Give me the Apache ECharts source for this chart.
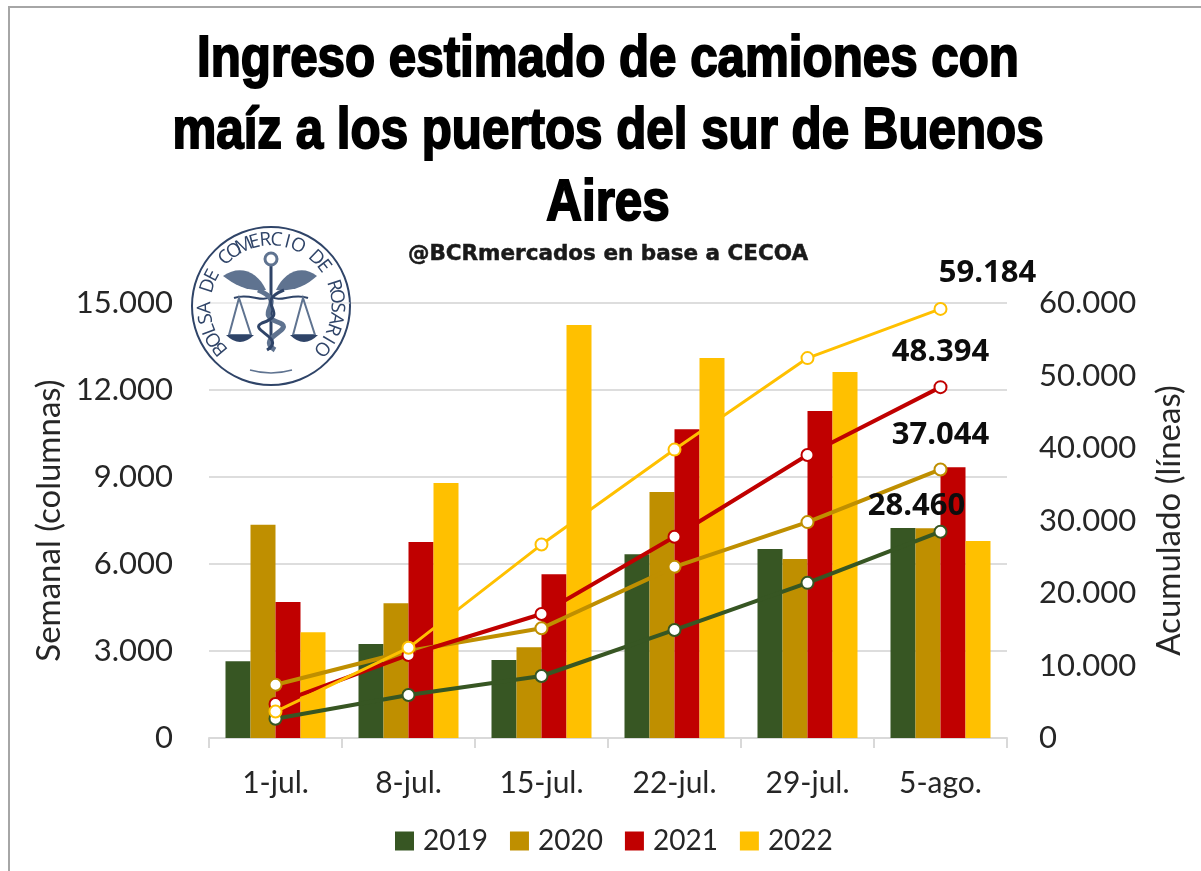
<!DOCTYPE html>
<html>
<head>
<meta charset="utf-8">
<title>Ingreso de camiones</title>
<script src="https://cdn.jsdelivr.net/npm/echarts@6/dist/echarts.min.js"></script>
<style>
html, body { margin: 0; padding: 0; background: #fff; }
#chart { width: 1201px; height: 871px; }
</style>
</head>
<body>
<div id="chart"></div>
<script>
var categories = ['1-jul.', '8-jul.', '15-jul.', '22-jul.', '29-jul.', '5-ago.'];
var years = ['2019', '2020', '2021', '2022'];
var colors = ['#375623', '#BF8F00', '#C00000', '#FFC000'];

var weekly2019 = [2650, 3240, 2690, 6340, 6520, 7240];
var weekly2020 = [7350, 4650, 3130, 8480, 6170, 7230];
var weekly2021 = [4690, 6760, 5650, 10650, 11280, 9340];
var weekly2022 = [3650, 8790, 14240, 13100, 12620, 6790];

var total2019 = [2650, 5930, 8550, 14900, 21400, 28460];
var total2020 = [7350, 12000, 15130, 23610, 29780, 37044];
var total2021 = [4690, 11450, 17100, 27750, 39030, 48394];
var total2022 = [3650, 12440, 26680, 39780, 52400, 59184];

var weekly = [weekly2019, weekly2020, weekly2021, weekly2022];
var totals = [total2019, total2020, total2021, total2022];

var titleText = 'Ingreso estimado de camiones con\nmaíz a los puertos del sur de Buenos\nAires';
var subtitleText = '@BCRmercados en base a CECOA';
var sealText = 'BOLSA DE COMERCIO DE ROSARIO';
var sealColor = '#2F4468';
var sealLight = '#5F7390';

// posicion de la etiqueta final de cada linea acumulada
var endLabelOffsets = [[-24, -3], [0, 0], [0, 0], [47, -1]];

function fmt(v) {
    return String(v).replace(/\B(?=(\d{3})+$)/g, '.');
}

function buildSeries() {
    var series = [];
    years.forEach(function (year, i) {
        series.push({
            name: year,
            type: 'bar',
            barWidth: 25,
            barGap: '0%',
            itemStyle: {color: colors[i]},
            data: weekly[i],
            z: 2
        });
    });
    years.forEach(function (year, i) {
        series.push({
            name: year + ' acumulado',
            type: 'line',
            yAxisIndex: 1,
            symbol: 'circle',
            symbolSize: 12,
            showAllSymbols: true,
            lineStyle: {color: colors[i], width: i === 3 ? 3 : 4},
            itemStyle: {color: '#fff', borderColor: colors[i], borderWidth: 2},
            data: totals[i],
            z: 5 + (i === 3 ? 1 : 0),
            label: {
                show: true,
                formatter: function (p) {
                    return p.dataIndex === categories.length - 1 ? fmt(p.value) : '';
                },
                position: 'top',
                distance: i === 0 ? 0 : 12,
                offset: endLabelOffsets[i],
                color: '#0D0D0D',
                fontFamily: 'Open Sans',
                fontWeight: 'bold',
                fontSize: 31
            }
        });
    });
    return series;
}

// el componente graphic no acepta pathData directo, se registran como formas
var sealPaths = {
    wingLeft: 'M266 290 C258 272 240 264 223 276 C236 286 250 292 266 290 Z',
    wingRight: 'M276 290 C284 272 302 264 317 276 C306 286 292 292 276 290 Z',
    beam: 'M234 298 C250 292 262 304 271 296 C280 304 292 292 308 298',
    panLeft: 'M239 298 L229 335 L251 335 Z',
    panRight: 'M303 298 L293 335 L315 335 Z',
    dishLeft: 'M226 335 Q240 349 254 335 Z',
    dishRight: 'M290 335 Q304 349 318 335 Z',
    snakeA: 'M258 290 C290 303 250 313 280 323 C295 330 255 338 275 350',
    snakeB: 'M284 290 C252 303 292 313 262 323 C247 330 287 338 267 350',
    swoosh: 'M250 370 Q271 376 292 370'
};
Object.keys(sealPaths).forEach(function (key) {
    echarts.graphic.registerShape(key, echarts.graphic.extendPath(sealPaths[key]));
});

function sealShape(name, fill, stroke, lineWidth) {
    return {type: name, style: {fill: fill, stroke: stroke, lineWidth: lineWidth}, z: 21};
}

// sello de la bolsa, arriba a la izquierda
function buildSeal() {
    var cx = 271, cy = 306;
    var items = [
        {type: 'circle', shape: {cx: cx, cy: cy, r: 79}, style: {fill: '#fff', stroke: sealColor, lineWidth: 2}, z: 20},
        {type: 'line', shape: {x1: 209, y1: 303, x2: 350, y2: 303}, style: {stroke: '#D9D9D9', lineWidth: 1}, z: 20},
        sealShape('wingLeft', sealLight, null, 0),
        sealShape('wingRight', sealLight, null, 0),
        {type: 'line', shape: {x1: 271, y1: 262, x2: 271, y2: 350}, style: {stroke: sealColor, lineWidth: 3}, z: 21},
        {type: 'circle', shape: {cx: 271, cy: 259, r: 6}, style: {fill: '#fff', stroke: sealLight, lineWidth: 3}, z: 21},
        sealShape('beam', 'none', sealColor, 2),
        sealShape('panLeft', 'none', sealLight, 2),
        sealShape('panRight', 'none', sealLight, 2),
        sealShape('dishLeft', sealColor, null, 0),
        sealShape('dishRight', sealColor, null, 0),
        sealShape('snakeA', 'none', sealLight, 5),
        sealShape('snakeB', 'none', sealColor, 3),
        sealShape('swoosh', 'none', sealLight, 1.5)
    ];
    var start = -130, step = 260 / (sealText.length - 1);
    for (var i = 0; i < sealText.length; i++) {
        var rad = (start + step * i) * Math.PI / 180;
        items.push({
            type: 'text',
            x: cx + 66 * Math.sin(rad),
            y: cy - 66 * Math.cos(rad),
            rotation: -rad,
            style: {
                text: sealText.charAt(i),
                fill: sealColor,
                font: '19px "Open Sans"',
                align: 'center',
                verticalAlign: 'middle'
            },
            z: 22
        });
    }
    return items;
}

function buildTexts() {
    return [{
        type: 'text',
        x: 608,
        y: 24,
        scaleX: 0.85,
        style: {
            text: titleText,
            font: 'bold 58px "Liberation Sans"',
            lineHeight: 72,
            align: 'center',
            fill: '#000',
            stroke: '#000',
            lineWidth: 2
        },
        z: 25
    }, {
        type: 'text',
        x: 608,
        y: 254,
        style: {
            text: subtitleText,
            font: 'bold 21.5px "DejaVu Sans"',
            align: 'center',
            verticalAlign: 'middle',
            fill: '#1a1a1a',
            stroke: '#1a1a1a',
            lineWidth: 0.5
        },
        z: 25
    }, {
        type: 'rect',
        shape: {x: 9, y: 7, width: 1300, height: 1000},
        style: {fill: 'none', stroke: '#A6A6A6', lineWidth: 2},
        z: 30
    }];
}

var option = {
    animation: false,
    backgroundColor: '#fff',
    legend: {
        data: years,
        left: 390,
        top: 822,
        itemWidth: 19,
        itemHeight: 19,
        itemGap: 22,
        icon: 'rect',
        textStyle: {fontFamily: 'Lato', fontSize: 28, color: '#262626', padding: [0, 0, 0, 4]}
    },
    grid: {left: 209, right: 194, top: 303, height: 435},
    xAxis: {
        type: 'category',
        data: categories,
        axisLine: {lineStyle: {color: '#D9D9D9', width: 2}},
        axisTick: {show: true, length: 10, lineStyle: {color: '#D9D9D9', width: 2}},
        axisLabel: {fontFamily: 'Lato', fontSize: 30, color: '#262626', margin: 30}
    },
    yAxis: [{
        type: 'value',
        min: 0,
        max: 15000,
        interval: 3000,
        name: 'Semanal (columnas)',
        nameLocation: 'middle',
        nameGap: 143,
        nameMoveOverlap: false,
        nameTextStyle: {fontFamily: 'Lato', fontSize: 33, color: '#262626'},
        axisLine: {show: false},
        axisTick: {show: false},
        splitLine: {lineStyle: {color: '#DDDDDD', width: 2}},
        axisLabel: {fontFamily: 'Lato', fontSize: 31, color: '#262626', margin: 36, formatter: fmt}
    }, {
        type: 'value',
        min: 0,
        max: 60000,
        interval: 10000,
        name: 'Acumulado (líneas)',
        nameLocation: 'middle',
        nameGap: 146,
        nameMoveOverlap: false,
        nameRotate: 90,
        nameTextStyle: {fontFamily: 'Lato', fontSize: 33, color: '#262626'},
        axisLine: {show: false},
        axisTick: {show: false},
        splitLine: {show: false},
        axisLabel: {fontFamily: 'Lato', fontSize: 31, color: '#262626', margin: 32, formatter: fmt}
    }],
    graphic: buildSeal().concat(buildTexts()),
    series: buildSeries()
};

var chart = echarts.init(document.getElementById('chart'));
chart.setOption(option);
</script>
</body>
</html>
